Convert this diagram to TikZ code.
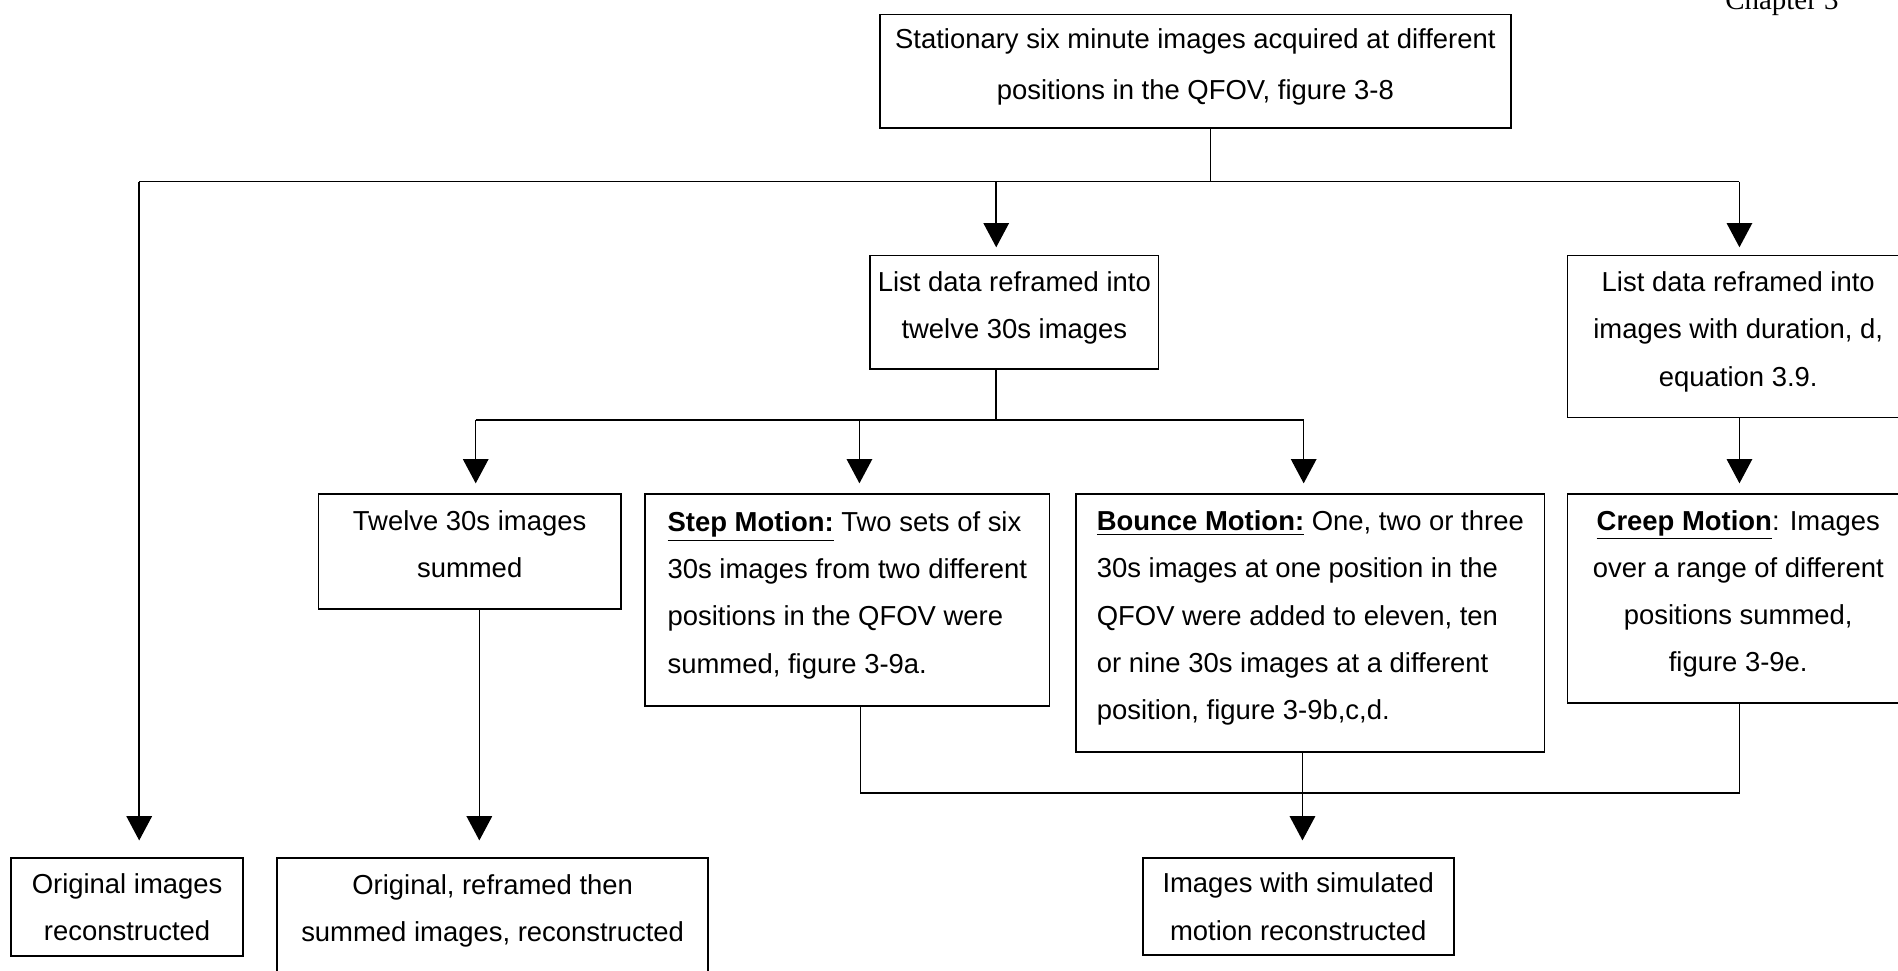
\documentclass[tikz,border=0pt]{standalone}
\usepackage{fontspec}
\setmainfont{Liberation Sans}
\newfontfamily\chapfont{Liberation Serif}
\usetikzlibrary{arrows.meta}

\begin{document}
\begin{tikzpicture}[every node/.style={font=\fontsize{12.9}{22.2}\selectfont, inner sep=2pt},
  box/.style={draw, line width=0.8pt, align=center, text depth=0.25cm},
  textbox/.style={draw, line width=0.8pt, align=left, text depth=0.25cm},
  link/.style={line width=0.7pt},
  arr/.style={line width=0.7pt, -{Triangle[length=0.4cm,width=0.42cm]}}]
\useasboundingbox (0,0) rectangle (31.36,-16.04);
\node[font=\chapfont\fontsize{13.6}{16}\selectfont, anchor=base west, inner sep=0pt] (chap) at (28.5,-0.165) {Chapter 3};
% --- source images ---
\node[box, minimum width=10.42cm, minimum height=1.88cm] (stat) at (19.75,-1.18)
  {Stationary six minute images acquired at different\\[1.5pt]positions in the QFOV, figure 3-8};
% --- reframing ---
\node[box, minimum width=4.76cm, minimum height=1.88cm] (lista) at (16.76,-5.16)
  {List data reframed into\\twelve 30s images};
\node[box, minimum width=5.64cm, minimum height=2.68cm] (listb) at (28.72,-5.56)
  {List data reframed into\\images with duration, d,\\equation 3.9.};
% --- motion types ---
\node[box, minimum width=5.0cm, minimum height=1.9cm] (twelve) at (7.76,-9.11)
  {Twelve 30s images\\summed};
\node[textbox, minimum width=6.68cm, minimum height=3.5cm] (step) at (14.0,-9.91)
  {\underline{\textbf{Step Motion:}} Two sets of six\\30s images from two different\\positions in the QFOV were\\summed, figure 3-9a.};
\node[textbox, minimum width=7.74cm, minimum height=4.26cm] (bounce) at (21.65,-10.29)
  {\underline{\textbf{Bounce Motion:}} One, two or three\\30s images at one position in the\\QFOV were added to eleven, ten\\or nine 30s images at a different\\position, figure 3-9b,c,d.};
\node[box, minimum width=5.64cm, minimum height=3.46cm] (creep) at (28.72,-9.89)
  {\underline{\textbf{Creep Motion}}: Images\\over a range of different\\positions summed,\\figure 3-9e.};
% --- reconstructions ---
\node[box, text depth=0cm, minimum width=3.84cm, minimum height=1.62cm] (orig) at (2.10,-14.99)
  {Original images\\reconstructed};
\node[box, text depth=0cm, minimum width=7.12cm, minimum height=2.42cm] (summ) at (8.14,-15.39)
  {Original, reframed then\\summed images, reconstructed\\\strut};
\node[box, text depth=0cm, minimum width=5.14cm, minimum height=1.6cm] (simrec) at (21.45,-14.98)
  {Images with simulated\\motion reconstructed};
% --- connectors ---
\coordinate (split) at (20.0,-3.0);
\coordinate (sl) at (2.30,-3.0);
\coordinate (sa) at (16.46,-3.0);
\coordinate (sr) at (28.74,-3.0);
\draw[link] (stat.south -| split) -- (split);
\draw[link] (sl) -- (sr);
\draw[arr, shorten >=0.28cm] (sl) -- (sl |- orig.north);
\draw[arr, shorten >=0.12cm] (sa) -- (sa |- lista.north);
\draw[arr, shorten >=0.12cm] (sr) -- (sr |- listb.north);
\coordinate (ta) at (16.46,-6.94);
\coordinate (tl) at (7.86,-6.94);
\coordinate (tm) at (14.2,-6.94);
\coordinate (tr) at (21.54,-6.94);
\draw[link] (lista.south -| ta) -- (ta);
\draw[link] (tl) -- (tr);
\draw[arr, shorten >=0.16cm] (tl) -- (tl |- twelve.north);
\draw[arr, shorten >=0.16cm] (tm) -- (tm |- step.north);
\draw[arr, shorten >=0.16cm] (tr) -- (tr |- bounce.north);
\draw[arr, shorten >=0.16cm] (listb.south -| sr) -- (sr |- creep.north);
\coordinate (ts) at (7.92,-12.0);
\draw[arr, shorten >=0.28cm] (twelve.south -| ts) -- (ts |- summ.north);
\coordinate (jl) at (14.22,-13.1);
\coordinate (jb) at (21.52,-13.1);
\coordinate (jr) at (28.74,-13.1);
\draw[link] (step.south -| jl) -- (jl) -- (jr) -- (creep.south -| jr);
\draw[arr, shorten >=0.28cm] (bounce.south -| jb) -- (jb |- simrec.north);
\end{tikzpicture}
\end{document}
